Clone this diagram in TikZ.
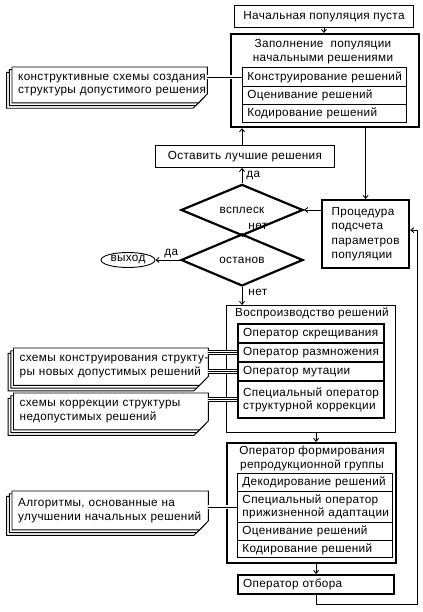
\documentclass[tikz,border=0pt]{standalone}
\usepackage{fontspec}
\setmainfont{Liberation Sans}[LetterSpace=2.8]
\usetikzlibrary{shapes.geometric,arrows.meta,backgrounds}
\tikzset{
  every node/.style={font=\fontsize{11.8}{13.5}\selectfont, inner sep=0pt},
  thinbox/.style={draw, line width=0.9bp, anchor=north west},
  thickbox/.style={draw, line width=2.2bp, anchor=north west},
  row/.style={draw, line width=0.9bp, anchor=north west, align=left, inner xsep=5bp},
  notetext/.style={anchor=north west, align=left, inner xsep=6bp},
  conn/.style={line width=0.9bp},
  arr/.style={conn, -{Straight Barb[length=3bp,width=5bp]}},
  lbl/.style={inner sep=1bp},
  decision/.style={diamond, draw, line width=2.2bp, minimum width=122bp, minimum height=35bp},
}
\newcommand\oneline[1]{\mbox{#1}}
\newcommand\notesheets[1]{%
  \foreach \s in {5.4,2.7,0}{%
    \draw[conn, fill=white] ([shift={(-\s,\s)}]#1.north west) -- ([shift={(-\s,\s)}]#1.north east)
      -- ([shift={(-\s,\s-9)}]#1.south east) -- ([shift={(-\s-9,\s)}]#1.south east)
      -- ([shift={(-\s,\s)}]#1.south west) -- cycle;}}
\newcommand\triple[2]{%
  \draw[line width=0.7bp, double distance=3.3bp] (#2.west) -- (#2.west -| #1.east);
  \draw[line width=0.7bp] (#2.west) -- (#2.west -| #1.east);}
\begin{document}
\begin{tikzpicture}[x=1bp, y=-1bp]
\useasboundingbox (0,0) rectangle (422,612);

% top
\node[thinbox, minimum width=179bp, minimum height=22bp] (A) at (234,5) {Начальная популяция пуста};
\node[thickbox, minimum width=188bp, minimum height=93bp] (B) at (230,33) {};
\node[align=center] (Bt) at (323,51.5) {Заполнение\ \ популяции\\начальными решениями};
\node[row, text width=154bp, minimum height=19bp] (B1) at (242,67) {\oneline{Конструирование решений}};
\node[row, text width=154bp, minimum height=18bp] (B2) at (242,86) {\oneline{Оценивание решений}};
\node[row, text width=154bp, minimum height=18bp] (B3) at (242,104) {\oneline{Кодирование решений}};

\node[thinbox, minimum width=179bp, minimum height=22bp] (C) at (155,145) {Оставить лучшие решения};
\node[decision] (D1) at (242,210) {всплеск};
\node[decision] (D2) at (242,260) {останов};
\node[ellipse, draw, line width=0.9bp, minimum width=54bp, minimum height=15bp] (X) at (128,260) {выход};
\node[thickbox, minimum width=87bp, minimum height=68bp] (E) at (321,199) {};
\node[align=left, font=\fontsize{11.8}{14.3}\selectfont] (Et) at (E.center) {Процедура\\подсчета\\параметров\\популяции};

% reproduction
\node[thinbox, minimum width=169bp, minimum height=127bp] (F) at (226,305) {};
\node (Ft) at (312,313.5) {Воспроизводство решений};
\node[row, line width=2.2bp, text width=136bp, minimum height=19bp] (F1) at (237,323) {\oneline{Оператор скрещивания}};
\node[row, line width=2.2bp, text width=136bp, minimum height=19bp] (F2) at (237,342) {\oneline{Оператор размножения}};
\node[row, line width=2.2bp, text width=136bp, minimum height=19bp] (F3) at (237,361) {\oneline{Оператор мутации}};
\node[row, line width=2.2bp, text width=136bp, minimum height=37bp] (F4) at (237,380) {\oneline{Специальный оператор}\\\oneline{структурной коррекции}};

% forming group
\node[thickbox, minimum width=169bp, minimum height=120bp] (G) at (226,442) {};
\node[align=center] (Gt) at (312,458.5) {Оператор формирования\\репродукционной группы};
\node[row, text width=145bp, minimum height=18bp] (G1) at (237,473) {\oneline{Декодирование решений}};
\node[row, text width=145bp, minimum height=31bp] (G2) at (237,491) {\oneline{Специальный оператор}\\\oneline{прижизненной адаптации}};
\node[row, text width=145bp, minimum height=18bp] (G3) at (237,522) {\oneline{Оценивание решений}};
\node[row, text width=145bp, minimum height=17bp] (G4) at (237,540) {\oneline{Кодирование решений}};

\node[thickbox, minimum width=156bp, minimum height=19bp, align=left, inner xsep=5bp, text width=146bp] (H) at (237,574) {\oneline{Оператор отбора}};

% notes
\node[notetext, text width=183bp, minimum height=35.5bp] (N1) at (12,67) {\oneline{конструктивные схемы создания}\\\oneline{структуры допустимого решения}};
\node[notetext, text width=182.5bp, minimum height=37bp] (N2) at (13.5,348) {\oneline{схемы конструирования структу-}\\\oneline{ры новых допустимых решений}};
\node[notetext, text width=182.5bp, minimum height=36.5bp] (N3) at (13.5,393) {\oneline{схемы коррекции структуры}\\\oneline{недопустимых решений}};
\node[notetext, text width=184bp, minimum height=38.5bp] (N4) at (12,491) {\oneline{Алгоритмы, основанные на}\\\oneline{улучшении начальных решений}};
\begin{scope}[on background layer]
  \notesheets{N1}
  \notesheets{N2}
  \notesheets{N3}
  \notesheets{N4}
\end{scope}
\triple{N1}{B1}
\triple{N2}{F2}
\triple{N2}{F3}
\triple{N3}{F4}
\triple{N4}{G2}

% connectors
\draw[arr] (A.south) -- (A.south |- B.north);
\draw[arr] (C.north -| D1.north) -- (B.south -| D1.north);
\draw[arr] (D1.north) -- (C.south -| D1.north) node[lbl, at start, anchor=south west, xshift=3bp, yshift=2bp] (l1) {да};
\draw[arr] (B.south -| E.north) -- (E.north);
\draw[arr] (E.west |- D1.east) -- (D1.east);
\draw[arr] (D1.south) -- (D2.north) node[lbl, at end, anchor=south west, xshift=5bp, yshift=2bp] (l2) {нет};
\draw[arr] (D2.west) -- (X.east) node[lbl, pos=0.35, above=1bp] (l3) {да};
\draw[arr] (D2.south) -- (D2.south |- F.north) node[lbl, at start, anchor=north west, xshift=5bp, yshift=-1bp] (l4) {нет};
\draw[arr] (F.south -| H.north) -- (G.north -| H.north);
\draw[arr] (G.south -| H.north) -- (H.north);
\coordinate (lp) at (417,604);
\draw[arr] (H.south) |- (lp) |- ([yshift=4bp]E.east);
\end{tikzpicture}
\end{document}
